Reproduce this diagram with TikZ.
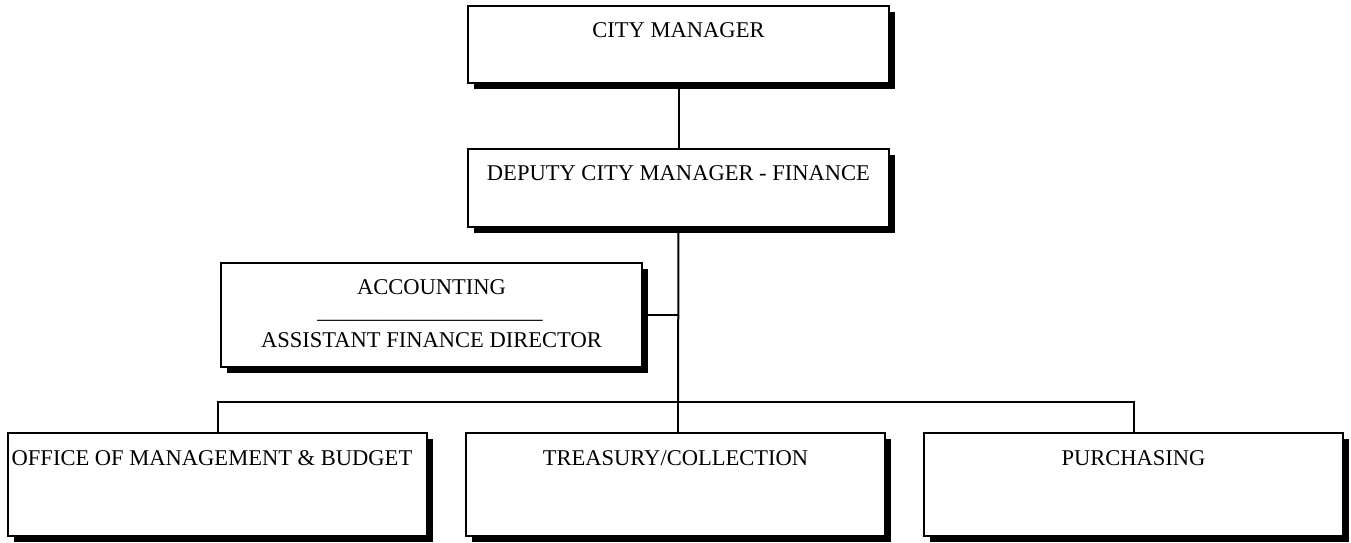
\documentclass[tikz,border=0pt]{standalone}
\usepackage{fontspec}
\setmainfont{Liberation Serif}
\usetikzlibrary{shadows}
\begin{document}
\begin{tikzpicture}[x=0.75pt,y=-0.75pt,
  box/.style={draw=black, line width=1.5pt, fill=white, rectangle, inner sep=0pt,
    drop shadow={shadow xshift=4.5pt, shadow yshift=-4.5pt, opacity=1, fill=black}},
  txt/.style={inner sep=0pt, font=\fontsize{16.9}{20}\selectfont},
  conn/.style={line width=1.5pt}]
\useasboundingbox (0,0) rectangle (1351,542);
% boxes
\node[box, minimum width=315.75pt, minimum height=57.75pt] (cm)  at (678.5,44.5) {};
\node[box, minimum width=315.75pt, minimum height=58.5pt]  (dep) at (678.5,188) {};
\node[box, minimum width=315.75pt, minimum height=78pt]    (acc) at (431.5,315) {};
\node[box, minimum width=314.25pt, minimum height=77.25pt] (omb) at (217.5,484.5) {};
\node[box, minimum width=314.25pt, minimum height=77.25pt] (tre) at (675.5,484.5) {};
\node[box, minimum width=314.25pt, minimum height=77.25pt] (pur) at (1133.5,484.5) {};
% texts
\node[txt] (cmt)  at (678.5,30) {CITY MANAGER};
\node[txt] (dept) at (678.5,173) {DEPUTY CITY MANAGER - FINANCE};
\node[txt] (acct) at (431.5,287) {ACCOUNTING};
\node[txt] (accl) at (430,320) {\_\_\_\_\_\_\_\_\_\_\_\_\_\_\_\_\_\_\_\_};
\node[txt] (acca) at (431.5,340) {ASSISTANT FINANCE DIRECTOR};
\node[txt] (ombt) at (212,458) {OFFICE OF MANAGEMENT \& BUDGET};
\node[txt] (tret) at (675.5,458) {TREASURY/COLLECTION};
\node[txt] (purt) at (1133.5,458) {PURCHASING};
% connectors
\coordinate (bus) at (678,402);
\draw[conn] (cm.south) -- (dep.north);
\draw[conn] (dep.south) -- (bus);
\draw[conn] (acc.east) -- (acc.east -| bus);
\draw[conn] (omb.north) -- (omb.north |- bus) -- (pur.north |- bus) -- (pur.north);
\draw[conn] (bus) -- (bus |- tre.north);
\end{tikzpicture}
\end{document}
